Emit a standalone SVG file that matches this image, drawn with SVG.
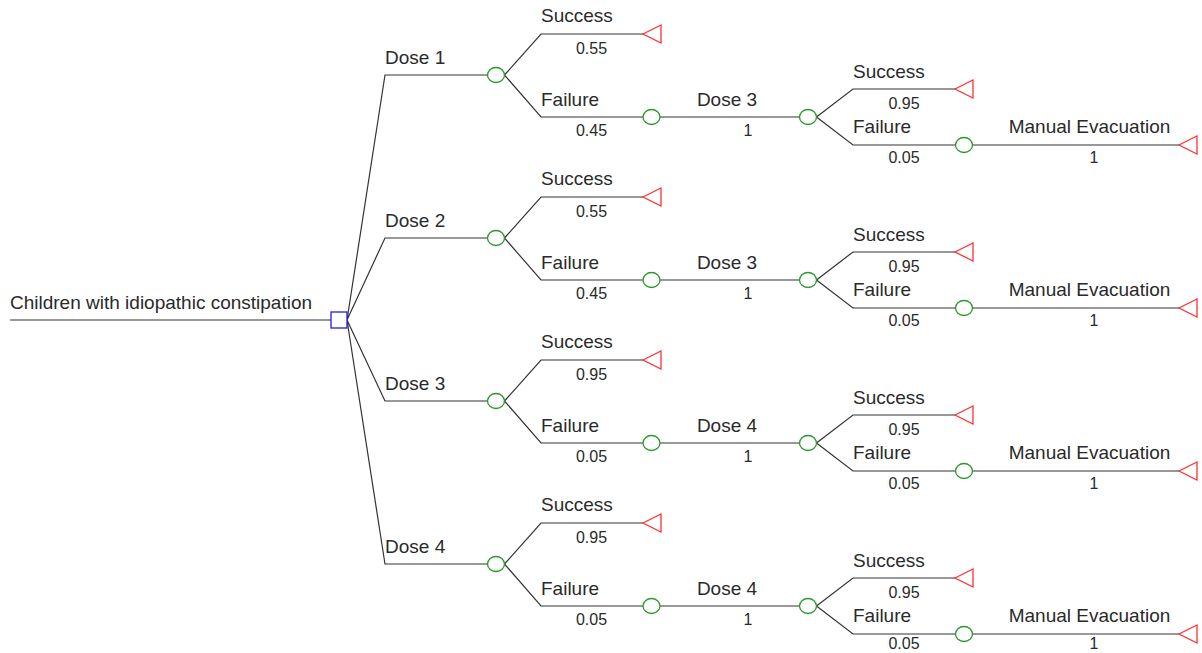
<svg xmlns="http://www.w3.org/2000/svg" width="1202" height="653" viewBox="0 0 1202 653">
<style>
text{font-family:"Liberation Sans",Arial,sans-serif;font-size:19px;fill:#2a2a2a}
.m{text-anchor:middle;font-size:16px}
.n{text-anchor:middle}
.c{fill:none;stroke:#333;stroke-width:1.2}
.ch{fill:#fff;stroke:#2a9a2a;stroke-width:1.3}
.t{fill:#fff;stroke:#ff3030;stroke-width:1.3}
.d{fill:#fff;stroke:#2020e0;stroke-width:1.3}
</style>
<rect width="1202" height="653" fill="#fff"/>
<g id="connectors">
<path class="c" d="M10,320H331"/>
<path class="c" d="M347,320L385,75H487.5M347,320L385,238H487.5M347,320L385,401H487.5M347,320L385,564H487.5"/>
<g id="c1"><path class="c" d="M504.5,75L541,34H643M504.5,75L541,117H643M660,117H799.5M816.5,117L853,89H955M816.5,117L853,145H955.5M972.5,145H1179"/></g>
<g id="c2" transform="translate(0,163)"><path class="c" d="M504.5,75L541,34H643M504.5,75L541,117H643M660,117H799.5M816.5,117L853,89H955M816.5,117L853,145H955.5M972.5,145H1179"/></g>
<g id="c3" transform="translate(0,326)"><path class="c" d="M504.5,75L541,34H643M504.5,75L541,117H643M660,117H799.5M816.5,117L853,89H955M816.5,117L853,145H955.5M972.5,145H1179"/></g>
<g id="c4" transform="translate(0,489)"><path class="c" d="M504.5,75L541,34H643M504.5,75L541,117H643M660,117H799.5M816.5,117L853,89H955M816.5,117L853,145H955.5M972.5,145H1179"/></g>
</g>
<g id="root">
<rect class="d" x="331" y="312" width="16" height="16"/>
<text x="10" y="309">Children with idiopathic constipation</text>
</g>
<g id="tree1">
<g id="n1-dose"><ellipse class="ch" cx="496" cy="75" rx="8.5" ry="7.5"/><text x="385" y="64">Dose 1</text></g>
<g id="n1-s"><polygon class="t" points="643,34 661,25 661,43"/><text x="541" y="22">Success</text><text class="m" x="591.5" y="54">0.55</text></g>
<g id="n1-f"><ellipse class="ch" cx="651.5" cy="117" rx="8.5" ry="7.5"/><text x="541" y="106">Failure</text><text class="m" x="591.5" y="136">0.45</text></g>
<g id="n1-d2"><ellipse class="ch" cx="808" cy="117" rx="8.5" ry="7.5"/><text class="n" x="727" y="106">Dose 3</text><text class="m" x="748" y="136">1</text></g>
<g id="n1-s2"><polygon class="t" points="955,89 973,80 973,98"/><text x="853" y="78">Success</text><text class="m" x="904" y="109">0.95</text></g>
<g id="n1-f2"><ellipse class="ch" cx="964" cy="145" rx="8.5" ry="7.5"/><text x="853" y="133">Failure</text><text class="m" x="904" y="163">0.05</text></g>
<g id="n1-me"><polygon class="t" points="1179,145 1197,136 1197,154"/><text class="n" x="1089.5" y="133">Manual Evacuation</text><text class="m" x="1094" y="163">1</text></g>
</g>
<g id="tree2" transform="translate(0,163)">
<g id="n2-dose"><ellipse class="ch" cx="496" cy="75" rx="8.5" ry="7.5"/><text x="385" y="64">Dose 2</text></g>
<g id="n2-s"><polygon class="t" points="643,34 661,25 661,43"/><text x="541" y="22">Success</text><text class="m" x="591.5" y="54">0.55</text></g>
<g id="n2-f"><ellipse class="ch" cx="651.5" cy="117" rx="8.5" ry="7.5"/><text x="541" y="106">Failure</text><text class="m" x="591.5" y="136">0.45</text></g>
<g id="n2-d2"><ellipse class="ch" cx="808" cy="117" rx="8.5" ry="7.5"/><text class="n" x="727" y="106">Dose 3</text><text class="m" x="748" y="136">1</text></g>
<g id="n2-s2"><polygon class="t" points="955,89 973,80 973,98"/><text x="853" y="78">Success</text><text class="m" x="904" y="109">0.95</text></g>
<g id="n2-f2"><ellipse class="ch" cx="964" cy="145" rx="8.5" ry="7.5"/><text x="853" y="133">Failure</text><text class="m" x="904" y="163">0.05</text></g>
<g id="n2-me"><polygon class="t" points="1179,145 1197,136 1197,154"/><text class="n" x="1089.5" y="133">Manual Evacuation</text><text class="m" x="1094" y="163">1</text></g>
</g>
<g id="tree3" transform="translate(0,326)">
<g id="n3-dose"><ellipse class="ch" cx="496" cy="75" rx="8.5" ry="7.5"/><text x="385" y="64">Dose 3</text></g>
<g id="n3-s"><polygon class="t" points="643,34 661,25 661,43"/><text x="541" y="22">Success</text><text class="m" x="591.5" y="54">0.95</text></g>
<g id="n3-f"><ellipse class="ch" cx="651.5" cy="117" rx="8.5" ry="7.5"/><text x="541" y="106">Failure</text><text class="m" x="591.5" y="136">0.05</text></g>
<g id="n3-d2"><ellipse class="ch" cx="808" cy="117" rx="8.5" ry="7.5"/><text class="n" x="727" y="106">Dose 4</text><text class="m" x="748" y="136">1</text></g>
<g id="n3-s2"><polygon class="t" points="955,89 973,80 973,98"/><text x="853" y="78">Success</text><text class="m" x="904" y="109">0.95</text></g>
<g id="n3-f2"><ellipse class="ch" cx="964" cy="145" rx="8.5" ry="7.5"/><text x="853" y="133">Failure</text><text class="m" x="904" y="163">0.05</text></g>
<g id="n3-me"><polygon class="t" points="1179,145 1197,136 1197,154"/><text class="n" x="1089.5" y="133">Manual Evacuation</text><text class="m" x="1094" y="163">1</text></g>
</g>
<g id="tree4" transform="translate(0,489)">
<g id="n4-dose"><ellipse class="ch" cx="496" cy="75" rx="8.5" ry="7.5"/><text x="385" y="64">Dose 4</text></g>
<g id="n4-s"><polygon class="t" points="643,34 661,25 661,43"/><text x="541" y="22">Success</text><text class="m" x="591.5" y="54">0.95</text></g>
<g id="n4-f"><ellipse class="ch" cx="651.5" cy="117" rx="8.5" ry="7.5"/><text x="541" y="106">Failure</text><text class="m" x="591.5" y="136">0.05</text></g>
<g id="n4-d2"><ellipse class="ch" cx="808" cy="117" rx="8.5" ry="7.5"/><text class="n" x="727" y="106">Dose 4</text><text class="m" x="748" y="136">1</text></g>
<g id="n4-s2"><polygon class="t" points="955,89 973,80 973,98"/><text x="853" y="78">Success</text><text class="m" x="904" y="109">0.95</text></g>
<g id="n4-f2"><ellipse class="ch" cx="964" cy="145" rx="8.5" ry="7.5"/><text x="853" y="133">Failure</text><text class="m" x="904" y="160">0.05</text></g>
<g id="n4-me"><polygon class="t" points="1179,145 1197,136 1197,154"/><text class="n" x="1089.5" y="133">Manual Evacuation</text><text class="m" x="1094" y="160">1</text></g>
</g>
</svg>
